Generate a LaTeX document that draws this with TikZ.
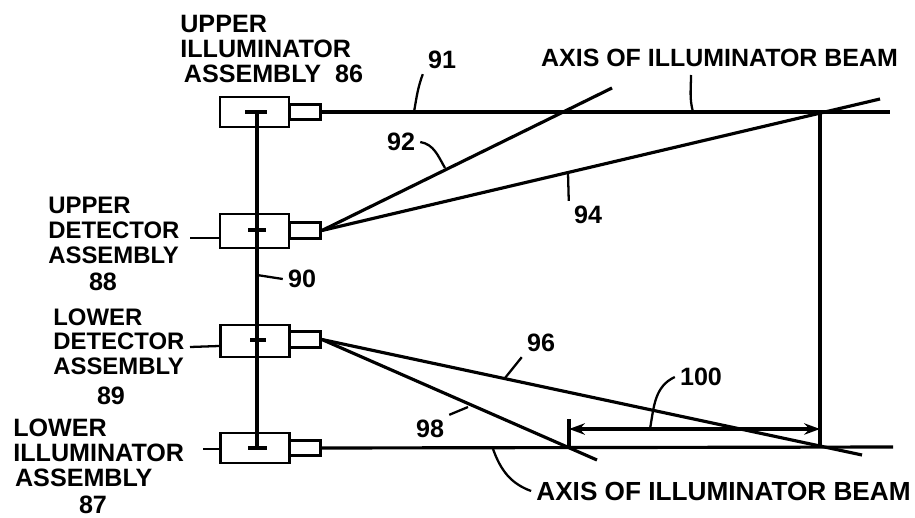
\documentclass[tikz,border=0pt]{standalone}
\usepackage{fontspec}
\setmainfont{Liberation Sans}
\usetikzlibrary{arrows.meta}

\tikzset{
	lbl/.style={inner sep=0pt, font=\bfseries\fontsize{14.3}{14.2}\selectfont},
	dlbl/.style={lbl, font=\bfseries\fontsize{13.6}{14.2}\selectfont},
	num/.style={lbl, outer sep=3pt},
	assy/.style={draw, line width=1.6pt, minimum width=1.38cm, minimum height=0.6cm, inner sep=0pt},
	nozzle/.style={draw, line width=1.6pt, minimum width=0.62cm, minimum height=0.31cm, inner sep=0pt},
	beam/.style={line width=1.8pt},
	lead/.style={line width=1.3pt}
}

\begin{document}
\begin{tikzpicture}[x=0.02cm, y=-0.02cm]
	\useasboundingbox (0,0) rectangle (915,517);

	% save coordinates for later
	\coordinate (t0) at (612,88);
	\coordinate (t1) at (880,99);
	\coordinate (b0) at (862,455);
	\coordinate (b1) at (597,460);
	\coordinate (topend) at (890,112);
	\coordinate (botend) at (893,447);
	\coordinate (vtop) at (820,112);
	\coordinate (vbot) at (820,447);
	\coordinate (dimtop) at (569,419);
	\coordinate (dimbot) at (569,447);
	\coordinate (dimleft) at (569,429);
	\coordinate (dimright) at (820,429);

	% the four assemblies with their nozzles
	\node[assy] (ui) at (254.5,112) {};
	\node[nozzle] (uin) at (305,112) {};
	\node[assy, minimum height=0.68cm] (ud) at (254.5,231) {};
	\node[nozzle] (udn) at (305,230.5) {};
	\node[assy, minimum height=0.64cm] (ld) at (255,341) {};
	\node[nozzle] (ldn) at (305,339.5) {};
	\node[assy] (li) at (255,448) {};
	\node[nozzle] (lin) at (305,448) {};

	% shaft between the assemblies, with its ticks
	\coordinate (s0) at (257,112);
	\coordinate (s1) at (257,448);
	\draw[beam] (s0) -- (s1);
	\draw[beam] (245,112) -- (267,112);
	\draw[beam] (248,230) -- (266,230);
	\draw[beam] (250,340) -- (266,340);
	\draw[beam] (248,448) -- (267,448);

	% axes and rays
	\draw[beam] (uin.east) -- (topend);
	\draw[beam] (lin.east) -- (botend);
	\draw[beam] (vtop) -- (vbot);
	\draw[beam] (udn.east) -- (t0);
	\draw[beam] (udn.east) -- (t1);
	\draw[beam] (ldn.east) -- (b0);
	\draw[beam] (ldn.east) -- (b1);

	% distance between the crossings
	\draw[beam] (dimtop) -- (dimbot);
	\draw[beam, {Stealth[length=9pt,width=6.5pt]}-{Stealth[length=9pt,width=6.5pt]}] (dimleft) -- (dimright);

	% nodes with labels
	\node[lbl, anchor=north west, align=left] (l86) at (180,15) {UPPER\\ILLUMINATOR\\\hspace*{2pt}ASSEMBLY\ \ 86};
	\node[dlbl, anchor=north west, align=left] (l88) at (48,197) {UPPER\\DETECTOR\\ASSEMBLY};
	\node[lbl] (n88) at (103,282) {88};
	\node[dlbl, anchor=north west, align=left] (l89) at (53,308) {LOWER\\DETECTOR\\ASSEMBLY};
	\node[lbl] (n89) at (111,396) {89};
	\node[lbl, anchor=north west, align=left] (l87) at (13,419) {LOWER\\ILLUMINATOR\\\hspace*{1pt}ASSEMBLY};
	\node[lbl] (n87) at (93,505) {87};
	\node[num] (n91) at (442,60) {91};
	\node[num] (n92) at (401,142) {92};
	\node[num] (n94) at (588,215) {94};
	\node[num] (n90) at (302,279) {90};
	\node[num] (n96) at (541,343) {96};
	\node[num] (n98) at (430,429) {98};
	\node[num] (n100) at (701,377) {100};
	\node[lbl, font=\bfseries\fontsize{14.2}{14.2}\selectfont] (axt) at (719.5,58) {AXIS OF ILLUMINATOR BEAM};
	\node[lbl, outer sep=3pt, font=\bfseries\fontsize{14.9}{14.9}\selectfont] (axb) at (723.5,491) {AXIS OF ILLUMINATOR BEAM};

	% leaders to the labels
	\coordinate (axtend) at (691,75);
	\draw[lead] (ud.west |- 0,238) -- (190,238);
	\draw[lead] (ld.west |- 0,346) -- (190,347);
	\draw[lead] (li.west |- 0,449) -- (203,449);
	\draw[lead] (414,112) to[out=80, in=-110] (n91.south west);
	\draw[lead] (445,168) to[out=120, in=-10] (n92.east);
	\draw[lead] (568,173) -- (n94.north west);
	\draw[lead] (257,275) -- (n90.west);
	\draw[lead] (505,378) -- (n96.south west);
	\draw[lead] (468,407) -- (n98.north east);
	\draw[lead] (650,429) to[out=80, in=-155] (n100.west);
	\draw[lead] (493,449) to[out=-70, in=160] (axb.west);
	\draw[lead] (693,112) to[out=105, in=-90] (axtend);
\end{tikzpicture}
\end{document}
